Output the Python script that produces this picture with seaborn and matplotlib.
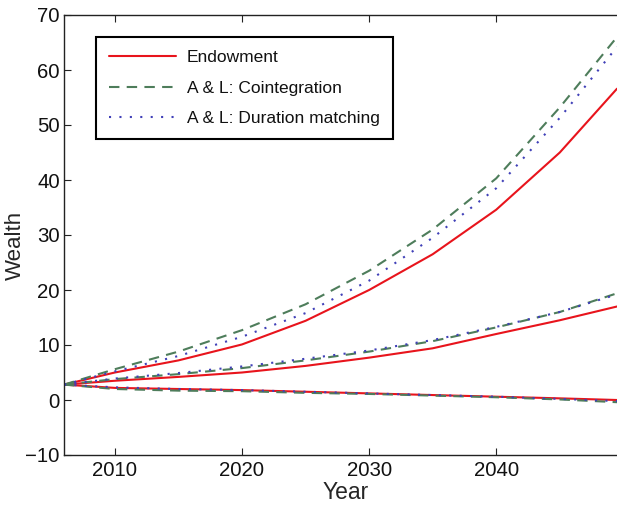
import matplotlib
matplotlib.use("Agg")
import matplotlib.pyplot as plt
import seaborn as sns
import pandas as pd

years = [2006, 2010, 2015, 2020, 2025, 2030, 2035, 2040, 2045, 2049.5]

# Endowment: upper / middle / lower curves
endow_hi = [2.8, 5.0, 7.2, 10.1, 14.4, 20.0, 26.5, 34.6, 45.0, 56.6]
endow_mid = [2.8, 3.5, 4.2, 5.0, 6.2, 7.7, 9.4, 12.0, 14.5, 17.0]
endow_lo = [2.8, 2.2, 2.0, 1.8, 1.5, 1.2, 0.9, 0.6, 0.3, 0.0]

# A & L: Cointegration
coint_hi = [2.8, 5.6, 8.8, 12.7, 17.4, 23.5, 31.0, 40.3, 53.2, 66.0]
coint_mid = [2.8, 3.8, 4.7, 5.8, 7.2, 8.8, 10.7, 13.2, 16.0, 19.4]
coint_lo = [2.8, 2.0, 1.7, 1.6, 1.3, 1.1, 0.8, 0.5, 0.1, -0.4]

# A & L: Duration matching
dur_hi = [2.8, 5.2, 8.0, 11.5, 15.8, 21.7, 29.5, 38.5, 51.3, 64.2]
dur_mid = [2.8, 3.9, 4.9, 6.1, 7.5, 9.0, 10.9, 13.3, 16.0, 19.2]
dur_lo = [2.8, 2.3, 2.0, 1.8, 1.5, 1.2, 0.9, 0.6, 0.2, -0.2]

series_names = ["Endowment", "A & L: Cointegration", "A & L: Duration matching"]
curves = {
    "Endowment": [endow_hi, endow_mid, endow_lo],
    "A & L: Cointegration": [coint_hi, coint_mid, coint_lo],
    "A & L: Duration matching": [dur_hi, dur_mid, dur_lo],
}

rows = []
for name in series_names:
    for band, vals in zip(["hi", "mid", "lo"], curves[name]):
        for yr, v in zip(years, vals):
            rows.append({"Year": yr, "Wealth": v, "series": name, "band": band})
df = pd.DataFrame(rows)

sns.set_style("white")
plt.rcParams["font.family"] = ["Liberation Sans", "DejaVu Sans"]

palette = {"Endowment": "#e8141c",
           "A & L: Cointegration": "#4e7d5b",
           "A & L: Duration matching": "#4040b8"}
dashes = {"Endowment": "",
          "A & L: Cointegration": (5, 3.5),
          "A & L: Duration matching": (1, 4)}

fig = plt.figure(figsize=(6.17, 5.07), dpi=100)
ax = fig.add_axes([64 / 617, 1 - 455 / 507, 1 - 64 / 617, 440 / 507])

sns.lineplot(data=df, x="Year", y="Wealth", hue="series", style="series",
             units="band", estimator=None, palette=palette, dashes=dashes,
             hue_order=series_names, style_order=series_names,
             linewidth=1.5, ax=ax, legend=False)

ax.set_xlim(2006, 2049.5)
ax.set_ylim(-10, 70)
ax.set_xticks([2010, 2020, 2030, 2040])
ax.set_yticks(range(-10, 71, 10))
ax.set_yticklabels(["\u221210"] + [str(v) for v in range(0, 71, 10)])
ax.tick_params(direction="in", length=5, width=0.8, labelsize=14.7, pad=4,
               top=True, right=False, bottom=True, left=True, colors="#222222",
               labelcolor="#111111")
ax.tick_params(axis="y", pad=3)
for side in ["left", "bottom", "top"]:
    ax.spines[side].set_color("#222222")
    ax.spines[side].set_linewidth(1.0)
ax.spines["right"].set_visible(False)
ax.set_xlabel("Year", fontsize=16.5)
ax.set_ylabel("Wealth", fontsize=16)
ax.xaxis.set_label_coords(0.51, -0.06)
ax.yaxis.set_label_coords(-0.069, 0.477)

handles = [plt.Line2D([], [], color=palette[n], lw=1.5,
                      linestyle="-" if dashes[n] == "" else (0, dashes[n]))
           for n in series_names]
leg = ax.legend(handles, series_names, loc="upper left",
                bbox_to_anchor=(0.058, 0.95), borderaxespad=0,
                fontsize=12.5, handlelength=3.85, handletextpad=0.63,
                labelspacing=0.88, borderpad=0.75, fancybox=False,
                framealpha=1, edgecolor="black")
leg.get_frame().set_linewidth(1.5)
for t in leg.get_texts():
    t.set_color("#111111")

fig.savefig("out.png", dpi=100)
